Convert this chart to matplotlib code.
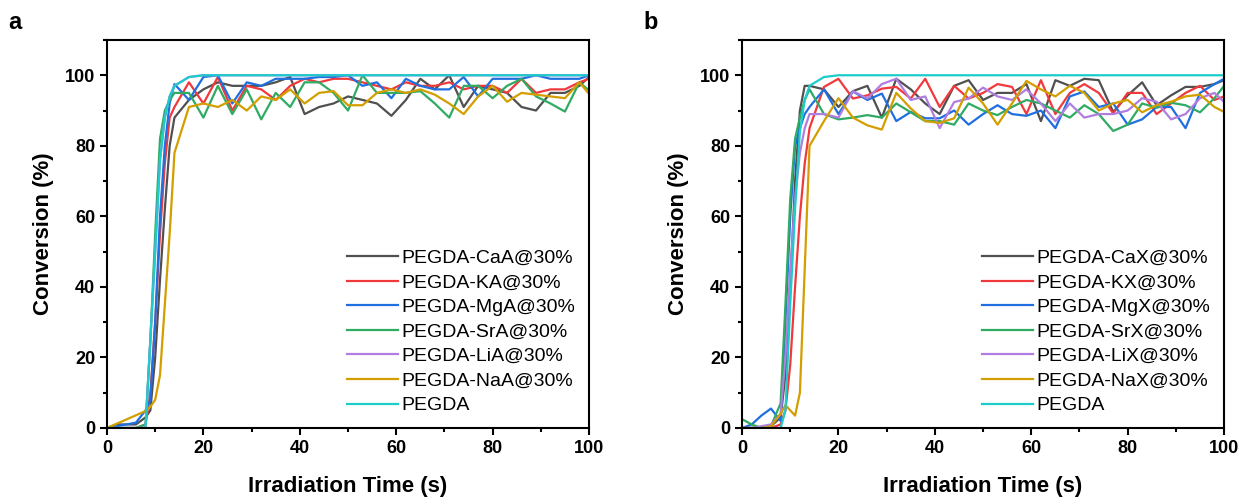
import matplotlib
matplotlib.use("Agg")
import matplotlib.pyplot as plt
from matplotlib import font_manager
from matplotlib.ticker import MultipleLocator

# time grid (s), shared by both panels
time_s = [0, 2, 4, 6, 8, 9, 10, 11, 12, 13, 14, 17, 20, 23, 26, 29, 32, 35, 38, 41,
          44, 47, 50, 53, 56, 59, 62, 65, 68, 71, 74, 77, 80, 83, 86, 89, 92, 95, 98, 100]

# panel a: conversion (%)
a_labels = ["PEGDA-CaA@30%", "PEGDA-KA@30%", "PEGDA-MgA@30%", "PEGDA-SrA@30%",
            "PEGDA-LiA@30%", "PEGDA-NaA@30%", "PEGDA"]
a_caa = [0, 1, 1, 1, 3, 5, 20, 42, 62, 80, 88, 93, 96, 98, 97, 97, 97, 98, 99.5, 89,
         91, 92, 94, 93, 92, 88.5, 93, 99, 96, 100, 91, 97, 96, 95, 91, 90, 95, 95, 97, 99.5]
a_ka = [0, 0, 0, 0, 1, 10, 30, 55, 75, 88, 91, 98, 92, 99.5, 90, 97, 96, 93, 97, 99,
        98, 99, 99, 98, 97, 96, 98, 97, 97, 98, 96, 97, 97, 95, 99, 95, 96, 96, 98, 99]
a_mga = [0, 0.5, 1, 1.5, 5, 8, 30, 60, 80, 92, 97.5, 93, 99.5, 100, 92, 98, 97, 99, 99, 99,
         99.5, 99.5, 100, 97, 98, 93.5, 99, 97, 96, 96, 99.5, 94, 99, 99, 99, 100, 99, 99, 99, 100]
a_sra = [0, 0, 0, 0, 1, 25, 55, 82, 90, 93, 95, 95, 88, 97, 89, 96, 87.5, 95, 91, 98,
         98, 95, 90, 100, 95, 95, 95, 95.5, 92, 88, 97, 97, 93.5, 97, 99, 94, 92, 89.7, 98, 95.7]
a_lia = [0, 0, 0, 0, 0, 25, 50, 76, 88, 94, 97, 99.5, 100, 100, 100, 100, 100, 100, 100, 100,
         100, 100, 100, 100, 100, 100, 100, 100, 100, 100, 100, 100, 100, 100, 100, 100, 100, 100, 100, 100]
a_naa = [0, 1.2, 2.4, 3.6, 4.8, 6, 8, 15, 35, 55, 78, 91, 92, 91, 93, 90, 94, 93, 96, 92,
         95, 95.5, 91.5, 91.5, 95, 96, 95, 96, 94.5, 92, 89, 94, 97, 92.5, 95, 94.5, 94, 93.5, 98, 94.7]
a_pegda = [0, 0, 0, 0, 0, 25, 50, 76, 88, 94, 97, 99.5, 100, 100, 100, 100, 100, 100, 100, 100,
           100, 100, 100, 100, 100, 100, 100, 100, 100, 100, 100, 100, 100, 100, 100, 100, 100, 100, 100, 100]

# panel b: conversion (%)
b_labels = ["PEGDA-CaX@30%", "PEGDA-KX@30%", "PEGDA-MgX@30%", "PEGDA-SrX@30%",
            "PEGDA-LiX@30%", "PEGDA-NaX@30%", "PEGDA"]
b_cax = [0, 0, 0, 0.5, 3, 15, 40, 70, 90, 97, 97, 96, 91, 95.5, 97, 88, 99, 96, 92, 89,
         97, 98.6, 93, 95, 95, 97.5, 87, 98.6, 97, 99, 98.6, 89.6, 94.3, 98, 91.5, 94.3, 96.7, 96.7, 97.5, 98.6]
b_kx = [0, 0, 0, 0, 1, 5, 18, 40, 60, 75, 85, 96.7, 99, 93.4, 94.3, 96.2, 96.7, 93.4, 99, 91,
        97, 93.4, 95, 97.5, 96.7, 89, 98.6, 89, 95, 97.5, 95, 89.2, 95, 95, 89, 92, 95, 97, 93, 94]
b_mgx = [0, 1, 3.5, 5.5, 2, 30, 60, 80, 85, 89, 91, 96, 89, 95.4, 93, 94.8, 87, 89.6, 87.8, 87.8,
         90, 86, 89, 91.5, 89, 88.5, 90, 85, 94, 95.4, 91, 92, 86, 87.5, 91, 91, 85, 95, 97.5, 99]
b_srx = [2.5, 1, 0, 0.5, 7, 35, 65, 82, 88, 93, 96, 89, 87.5, 88, 88.7, 88, 92, 89.5, 87, 87,
         86, 92, 90, 88.7, 91, 93, 92, 90, 88, 91.5, 89, 84.2, 86, 92, 90.8, 92.2, 91.5, 89.5, 93.5, 97]
b_lix = [0, 0, 0.5, 1, 4, 20, 45, 65, 78, 85, 89, 89, 88, 95.5, 93.4, 97.5, 99, 93, 94, 85,
         92.4, 93.4, 96.5, 94, 93, 96, 92, 87, 92, 88, 89, 89, 90, 93.5, 92.5, 87.5, 89, 93.5, 95, 92.4]
b_nax = [0, 0, 0, 0.5, 4, 6.5, 5, 3.5, 10, 45, 80, 87, 93.5, 88, 85.8, 84.6, 95, 90.6, 87, 86.5,
         87.8, 96.5, 92, 86, 92, 98.4, 96, 94, 97, 95, 90, 92, 93, 89.5, 91.5, 92.5, 94, 94.5, 91, 89.6]
b_pegda = [0, 0, 0, 0, 0, 5, 35, 62, 84, 93, 97, 99.5, 100, 100, 100, 100, 100, 100, 100, 100,
           100, 100, 100, 100, 100, 100, 100, 100, 100, 100, 100, 100, 100, 100, 100, 100, 100, 100, 100, 100]

colors = ["#505050", "#f0393c", "#1f6fe0", "#2fab62", "#b07ee0", "#d39e00", "#1ccccc"]

installed = {f.name for f in font_manager.fontManager.ttflist}
plt.rcParams["font.family"] = "Liberation Sans" if "Liberation Sans" in installed else "DejaVu Sans"
tick_family = "Liberation Sans Narrow" if "Liberation Sans Narrow" in installed else plt.rcParams["font.family"][0]


def draw_panel(ax, series, labels, letter):
    for vals, lab, col in zip(series, labels, colors):
        ax.plot(time_s, vals, color=col, lw=1.6, label=lab)
    ax.set_xlim(0, 100)
    ax.set_ylim(0, 110)
    ax.xaxis.set_major_locator(MultipleLocator(20))
    ax.xaxis.set_minor_locator(MultipleLocator(10))
    ax.yaxis.set_major_locator(MultipleLocator(20))
    ax.yaxis.set_minor_locator(MultipleLocator(10))
    ax.tick_params(which="major", direction="out", length=5, width=1.5)
    ax.tick_params(which="minor", direction="out", length=3, width=1.5)
    for lbl in ax.get_xticklabels() + ax.get_yticklabels():
        lbl.set_fontfamily(tick_family)
        lbl.set_fontweight("bold")
        lbl.set_fontsize(13)
    for sp in ax.spines.values():
        sp.set_linewidth(1.5)
    ax.set_xlabel("Irradiation Time (s)", fontsize=16, fontweight="bold", labelpad=14)
    ax.set_ylabel("Conversion (%)", fontsize=16, fontweight="bold", labelpad=8)
    ax.legend(loc="lower right", bbox_to_anchor=(1.0, 0.0), frameon=False, fontsize=14,
              handlelength=2.6, handletextpad=0.2, labelspacing=0.36, borderaxespad=0.3)
    ax.text(-0.205, 1.045, letter, transform=ax.transAxes, fontsize=17, fontweight="bold",
            va="center", ha="left")


fig = plt.figure(figsize=(12.44, 4.98), dpi=100)
ax_a = fig.add_axes([0.086, 0.1406, 0.3875, 0.7791])
ax_b = fig.add_axes([0.5965, 0.1406, 0.3875, 0.7791])

draw_panel(ax_a, [a_caa, a_ka, a_mga, a_sra, a_lia, a_naa, a_pegda], a_labels, "a")
draw_panel(ax_b, [b_cax, b_kx, b_mgx, b_srx, b_lix, b_nax, b_pegda], b_labels, "b")

fig.savefig("out.png", dpi=100)
